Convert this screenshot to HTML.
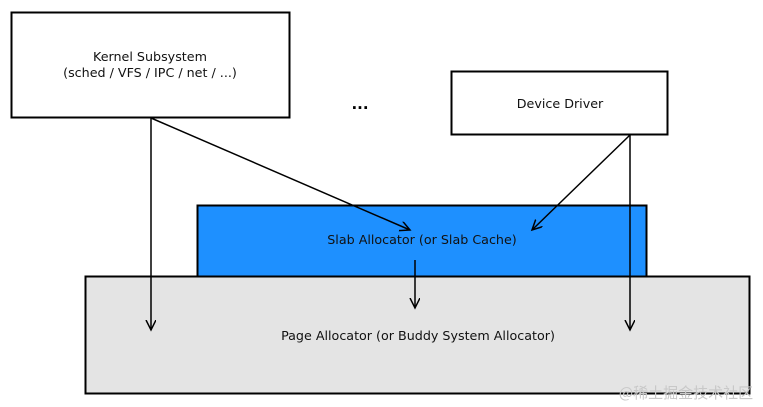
<!DOCTYPE html>
<html><head><meta charset="utf-8"><style>
body{margin:0;background:#fff;}
svg{display:block;font-family:"DejaVu Sans","Liberation Sans","Noto Sans CJK SC",sans-serif;}
</style></head><body>
<svg width="763" height="407" viewBox="0 0 763 407">
<defs><marker id="a" markerWidth="12" markerHeight="12" refX="10" refY="5" orient="auto" markerUnits="userSpaceOnUse"><path d="M0,0 L10,5 L0,10" fill="none" stroke="#000" stroke-width="1.5"/></marker></defs>
<rect x="11.5" y="12.5" width="278" height="105" fill="#fff" stroke="#000" stroke-width="2"/>
<text x="150" y="61" font-size="12.7" text-anchor="middle" fill="#111">Kernel Subsystem</text>
<text x="150" y="77" font-size="12.7" text-anchor="middle" fill="#111">(sched / VFS / IPC / net / ...)</text>
<text x="360" y="109" font-size="15" font-weight="bold" text-anchor="middle">...</text>
<rect x="451.5" y="71.5" width="216" height="63" fill="#fff" stroke="#000" stroke-width="2"/>
<text x="560" y="108" font-size="12.7" text-anchor="middle" fill="#111">Device Driver</text>
<rect x="197.5" y="205.5" width="449" height="71" fill="#1e90ff" stroke="#000" stroke-width="2"/>
<text x="422" y="244" font-size="12.7" text-anchor="middle" fill="#111">Slab Allocator (or Slab Cache)</text>
<rect x="85.5" y="276.5" width="664" height="117" fill="#e4e4e4" stroke="#000" stroke-width="2"/>
<text x="418" y="340" font-size="12.7" text-anchor="middle" fill="#111">Page Allocator (or Buddy System Allocator)</text>
<g stroke="#000" stroke-width="1.5" fill="none" marker-end="url(#a)">
<line x1="151" y1="118" x2="151" y2="330"/>
<line x1="151" y1="118" x2="410" y2="230"/>
<line x1="630" y1="135" x2="630" y2="330"/>
<line x1="630" y1="135" x2="532" y2="230"/>
<line x1="415" y1="260" x2="415" y2="308"/>
</g>
<text x="686" y="398" font-size="15" fill="#c8c8c8" text-anchor="middle" font-family="Noto Sans CJK SC,sans-serif">@稀土掘金技术社区</text>
</svg>
</body></html>
